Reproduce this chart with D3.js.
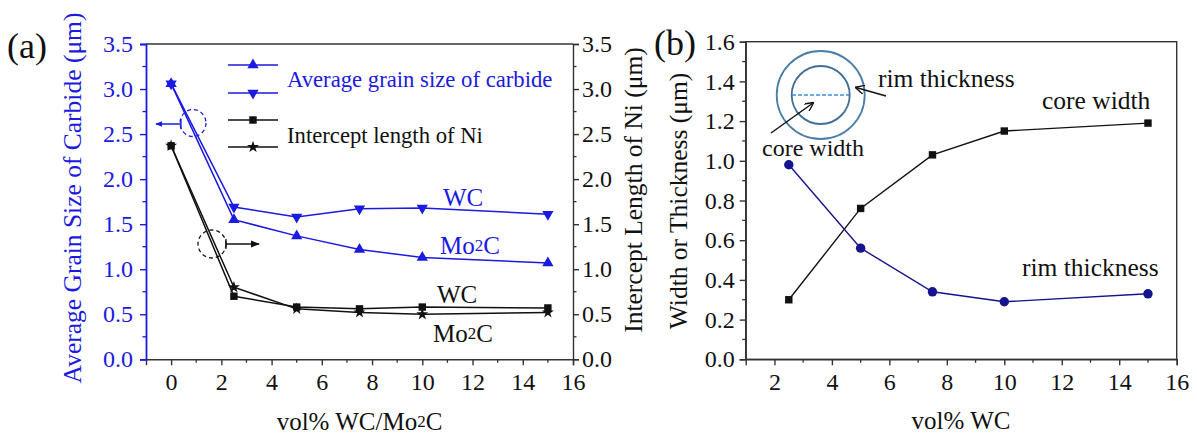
<!DOCTYPE html>
<html><head><meta charset="utf-8">
<script src="https://cdn.jsdelivr.net/npm/d3@7"></script>
<style>
body{margin:0;background:#fff;}
svg text{font-family:"Liberation Serif","Times New Roman",Times,serif !important;}
</style></head>
<body><svg id="c" width="1197" height="435"></svg>
<script>
// ---------- data ----------
const xA = [0, 2.5, 5, 7.5, 10, 15];
const grainMo2C = [3.06, 1.55, 1.37, 1.22, 1.13, 1.07];
const grainWC   = [3.06, 1.69, 1.58, 1.67, 1.68, 1.61];
const niWC      = [2.37, 0.70, 0.58, 0.56, 0.58, 0.57];
const niMo2C    = [2.37, 0.80, 0.56, 0.52, 0.50, 0.52];
const xB = [2.5, 5, 7.5, 10, 15];
const coreWidth = [0.30, 0.76, 1.03, 1.15, 1.19];
const rimThick  = [0.98, 0.56, 0.34, 0.29, 0.33];
const ticksAX = [0,2,4,6,8,10,12,14,16];
const ticksAY = [0,0.5,1,1.5,2,2.5,3,3.5];
const ticksBX = [2,4,6,8,10,12,14,16];
const ticksBY = [0,0.2,0.4,0.6,0.8,1.0,1.2,1.4,1.6];

const BLUE = "#1a1ae0", NAVY = "#14148f", BLK = "#111", AX="#333";
const svg = d3.select("#c");
const FS = 24;

function styleAxis(g, color){
  g.attr("font-family", null);
  g.selectAll("path,line").attr("stroke", color).attr("stroke-width",1.4);
  g.selectAll("text").attr("fill", color).attr("font-size", FS);
}
function minor(g, scale, vals, orient, color, len){
  vals.forEach(v=>{
    const p = scale(v);
    let l;
    if(orient==="left") l = g.append("line").attr("x1",0).attr("x2",-len).attr("y1",p).attr("y2",p);
    if(orient==="right") l = g.append("line").attr("x1",0).attr("x2",len).attr("y1",p).attr("y2",p);
    if(orient==="bottom") l = g.append("line").attr("y1",0).attr("y2",len).attr("x1",p).attr("x2",p);
    l.attr("stroke",color).attr("stroke-width",1.3);
  });
}
function marker(g, type, x, y, color, size){
  let sym;
  if(type==="up" || type==="down") sym = d3.symbol(d3.symbolTriangle, size||55);
  else if(type==="square") sym = d3.symbol(d3.symbolSquare, size||55);
  else if(type==="star") sym = d3.symbol(d3.symbolStar, size||45);
  else sym = d3.symbol(d3.symbolCircle, size||70);
  const rot = type==="down" ? 180 : 0;
  g.append("path").attr("d", sym()).attr("fill", color)
   .attr("transform", `translate(${x},${y}) rotate(${rot})`);
}
function series(g, xs, ys, sx, sy, color, type, sw){
  const line = d3.line().x((d,i)=>sx(xs[i])).y(d=>sy(d));
  g.append("path").datum(ys).attr("d", line).attr("fill","none").attr("stroke", color).attr("stroke-width", sw||1.5);
  ys.forEach((v,i)=>marker(g, type, sx(xs[i]), sy(v), color));
}
function mo2c(sel, x, y, color, anchor){
  const t = sel.append("text").attr("x",x).attr("y",y).attr("fill",color).attr("font-size",FS+1)
    .attr("text-anchor",anchor||"start").attr("dominant-baseline","central");
  t.append("tspan").text("Mo");
  t.append("tspan").attr("font-size",(FS+1)*0.68).text("2");
  t.append("tspan").text("C");
  return t;
}
svg.append("defs").html(`
<marker id="arrB" viewBox="0 0 10 10" refX="9" refY="5" markerWidth="7" markerHeight="7" orient="auto-start-reverse" markerUnits="userSpaceOnUse"><path d="M0,1 L10,5 L0,9 z" fill="${BLUE}"/></marker>
<marker id="arrK" viewBox="0 0 10 10" refX="9" refY="5" markerWidth="9" markerHeight="9" orient="auto" markerUnits="userSpaceOnUse"><path d="M0,1 L10,5 L0,9 z" fill="${BLK}"/></marker>
<marker id="arrK2" viewBox="0 0 10 10" refX="9" refY="5" markerWidth="9" markerHeight="9" orient="auto" markerUnits="userSpaceOnUse"><path d="M0,0 L10,5 L0,10" fill="none" stroke="${BLK}" stroke-width="1.5"/></marker>`);

// ================= Panel (a) =================
const ax = d3.scaleLinear().domain([-1,16]).range([146,573]);
const ay = d3.scaleLinear().domain([0,3.5]).range([359.3,44]);
const ga = svg.append("g");

ga.append("line").attr("x1",146).attr("x2",573).attr("y1",44).attr("y2",44).attr("stroke",AX).attr("stroke-width",1.4);

const gab = ga.append("g").attr("transform","translate(0,359.3)")
  .call(d3.axisBottom(ax).tickValues(ticksAX).tickSize(6).tickPadding(8).tickFormat(d3.format("d")));
styleAxis(gab, AX); gab.selectAll("text").attr("fill","#111");
minor(gab, ax, [1,3,5,7,9,11,13,15], "bottom", AX, 3.5);

const gar = ga.append("g").attr("transform","translate(573,0)")
  .call(d3.axisRight(ay).tickValues(ticksAY).tickSize(6).tickPadding(3).tickFormat(d3.format(".1f")));
styleAxis(gar, AX); gar.selectAll("text").attr("fill","#111");
minor(gar, ay, [0.25,0.75,1.25,1.75,2.25,2.75,3.25], "right", AX, 3.5);

const gal = ga.append("g").attr("transform","translate(146,0)")
  .call(d3.axisLeft(ay).tickValues(ticksAY).tickSize(6).tickPadding(7).tickFormat(d3.format(".1f")));
styleAxis(gal, BLUE);
minor(gal, ay, [0.25,0.75,1.25,1.75,2.25,2.75,3.25], "left", BLUE, 3.5);
gal.select(".domain").attr("stroke-width",1.8);

// series
series(ga, xA, niMo2C, ax, ay, BLK, "star");
series(ga, xA, niWC, ax, ay, BLK, "square");
series(ga, xA, grainMo2C, ax, ay, BLUE, "up");
series(ga, xA, grainWC, ax, ay, BLUE, "down");

// legend
const legA = [["up",BLUE,65],["down",BLUE,93],["square",BLK,120],["star",BLK,147]];
legA.forEach(([t,c,y])=>{
  ga.append("line").attr("x1",228).attr("x2",278).attr("y1",y).attr("y2",y).attr("stroke",c).attr("stroke-width",1.6);
  marker(ga, t, 253, y, c);
});
ga.append("text").attr("x",287).attr("y",79).attr("dominant-baseline","central").attr("fill",BLUE).attr("font-size",22.7).text("Average grain size of carbide");
ga.append("text").attr("x",287).attr("y",135).attr("dominant-baseline","central").attr("fill",BLK).attr("font-size",22.7).text("Intercept length of Ni");

// annotations
ga.append("ellipse").attr("cx",193).attr("cy",123).attr("rx",13).attr("ry",13.5).attr("fill","none").attr("stroke",BLUE).attr("stroke-width",1.3).attr("stroke-dasharray","4,3");
ga.append("line").attr("x1",181).attr("y1",124).attr("x2",156).attr("y2",124).attr("stroke",BLUE).attr("stroke-width",1.5).attr("marker-end","url(#arrB)");
ga.append("line").attr("x1",181).attr("y1",119).attr("x2",181).attr("y2",129).attr("stroke",BLUE).attr("stroke-width",1.3);
ga.append("ellipse").attr("cx",212).attr("cy",244).attr("rx",14).attr("ry",14).attr("fill","none").attr("stroke",BLK).attr("stroke-width",1.3).attr("stroke-dasharray","4,3");
ga.append("line").attr("x1",226).attr("y1",244).attr("x2",259).attr("y2",244).attr("stroke",BLK).attr("stroke-width",1.5).attr("marker-end","url(#arrK)");
ga.append("line").attr("x1",226).attr("y1",239).attr("x2",226).attr("y2",249).attr("stroke",BLK).attr("stroke-width",1.3);

ga.append("text").attr("x",443).attr("y",197).attr("dominant-baseline","central").attr("fill",BLUE).attr("font-size",FS+1).text("WC");
mo2c(ga, 440, 245, BLUE);
ga.append("text").attr("x",437).attr("y",294).attr("dominant-baseline","central").attr("fill",BLK).attr("font-size",FS+1).text("WC");
mo2c(ga, 433, 333, BLK);

// axis titles
ga.append("text").attr("transform","translate(72,198) rotate(-90)").attr("text-anchor","middle").attr("dominant-baseline","central")
  .attr("fill",BLUE).attr("font-size",25.5).text("Average Grain Size of Carbide (μm)");
ga.append("text").attr("transform","translate(633,190) rotate(-90)").attr("text-anchor","middle").attr("dominant-baseline","central")
  .attr("fill",BLK).attr("font-size",25.5).text("Intercept Length of Ni (μm)");
const xt = ga.append("text").attr("x",359.5).attr("y",421).attr("text-anchor","middle").attr("dominant-baseline","central").attr("fill",BLK).attr("font-size",25);
xt.append("tspan").text("vol% WC/Mo");
xt.append("tspan").attr("font-size",17).text("2");
xt.append("tspan").text("C");
ga.append("text").attr("x",7).attr("y",46).attr("dominant-baseline","central").attr("fill",BLK).attr("font-size",36).text("(a)");

// ================= Panel (b) =================
const bx = d3.scaleLinear().domain([1,16]).range([745.7,1176.7]);
const by = d3.scaleLinear().domain([0,1.6]).range([359.3,41.7]);
const gb = svg.append("g");
gb.append("rect").attr("x",745.7).attr("y",41.7).attr("width",431).attr("height",317.6).attr("fill","none").attr("stroke",AX).attr("stroke-width",1.4);

const gbb = gb.append("g").attr("transform","translate(0,359.3)")
  .call(d3.axisBottom(bx).tickValues(ticksBX).tickSize(6).tickPadding(8).tickFormat(d3.format("d")));
styleAxis(gbb, AX); gbb.selectAll("text").attr("fill","#111");
minor(gbb, bx, [3,5,7,9,11,13,15], "bottom", AX, 3.5);
const gbl = gb.append("g").attr("transform","translate(745.7,0)")
  .call(d3.axisLeft(by).tickValues(ticksBY).tickSize(6).tickPadding(5).tickFormat(d3.format(".1f")));
styleAxis(gbl, AX); gbl.selectAll("text").attr("fill","#111");
minor(gbl, by, [0.1,0.3,0.5,0.7,0.9,1.1,1.3,1.5], "left", AX, 3.5);

series(gb, xB, coreWidth, bx, by, BLK, "square", 1.4);
series(gb, xB, rimThick, bx, by, NAVY, "circle", 1.4);

// inset
gb.append("circle").attr("cx",820.7).attr("cy",95).attr("r",44).attr("fill","none").attr("stroke","#4a7ea8").attr("stroke-width",1.8);
gb.append("circle").attr("cx",820.7).attr("cy",95).attr("r",29).attr("fill","none").attr("stroke","#3f6f94").attr("stroke-width",1.8);
gb.append("line").attr("x1",792).attr("x2",849).attr("y1",95).attr("y2",95).attr("stroke","#3b8fdc").attr("stroke-width",1.3).attr("stroke-dasharray","4,2");
gb.append("line").attr("x1",886).attr("y1",96).attr("x2",856).attr("y2",87.5).attr("stroke",BLK).attr("stroke-width",1.4).attr("marker-end","url(#arrK2)");
gb.append("line").attr("x1",771).attr("y1",133).attr("x2",813).attr("y2",103).attr("stroke",BLK).attr("stroke-width",1.4).attr("marker-end","url(#arrK2)");
gb.append("text").attr("x",762).attr("y",148).attr("dominant-baseline","central").attr("fill",BLK).attr("font-size",24).text("core width");
gb.append("text").attr("x",878).attr("y",78).attr("dominant-baseline","central").attr("fill",BLK).attr("font-size",25.5).text("rim thickness");
gb.append("text").attr("x",1042).attr("y",100).attr("dominant-baseline","central").attr("fill",BLK).attr("font-size",25.5).text("core width");
gb.append("text").attr("x",1022).attr("y",267).attr("dominant-baseline","central").attr("fill",BLK).attr("font-size",25.5).text("rim thickness");

gb.append("text").attr("transform","translate(678,201) rotate(-90)").attr("text-anchor","middle").attr("dominant-baseline","central")
  .attr("fill",BLK).attr("font-size",25.5).text("Width or Thickness (μm)");
gb.append("text").attr("x",961).attr("y",420).attr("text-anchor","middle").attr("dominant-baseline","central").attr("fill",BLK).attr("font-size",25).text("vol% WC");
gb.append("text").attr("x",654).attr("y",43).attr("dominant-baseline","central").attr("fill",BLK).attr("font-size",36).text("(b)");
</script></body></html>
